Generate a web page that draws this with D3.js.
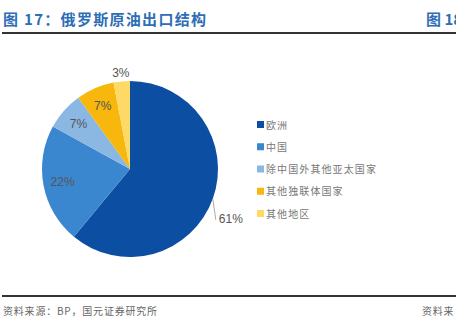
<!DOCTYPE html>
<html lang="zh">
<head>
<meta charset="UTF-8">
<title>俄罗斯原油出口结构</title>
<script src="https://d3js.org/d3.v7.min.js"></script>
<style>
  body { margin: 0; background: #fff; }
  text { font-family: "Noto Sans CJK SC", sans-serif; }
</style>
</head>
<body>
<script>
  const categories = ['欧洲', '中国', '除中国外其他亚太国家', '其他独联体国家', '其他地区']
  const values = [61, 22, 7, 7, 3]
  const colors = ['#0b4ea2', '#3a87d0', '#8bb8e3', '#f7b70c', '#ffd966']

  const width = 456
  const height = 330

  const svg = d3.select('body').append('svg').attr('width', width).attr('height', height)

  // header
  svg.append('text')
    .attr('x', 3).attr('y', 25)
    .style('font-size', '15px').style('font-weight', 'bold')
    .style('letter-spacing', '1.3px')
    .style('fill', '#2f6db5')
    .text('图 17：俄罗斯原油出口结构')

  svg.append('text')
    .attr('x', 426).attr('y', 25)
    .style('font-size', '15px').style('font-weight', 'bold')
    .style('fill', '#2f6db5')
    .text('图 18')

  svg.append('rect').attr('x', 2).attr('y', 32).attr('width', width).attr('height', 2).style('fill', '#333')
  svg.append('rect').attr('x', 2).attr('y', 295).attr('width', width).attr('height', 2).style('fill', '#333')

  // footer
  svg.append('text')
    .attr('x', 3).attr('y', 315)
    .style('font-size', '10px').style('letter-spacing', '0.8px')
    .style('fill', '#666')
    .text('资料来源：BP，国元证券研究所')

  svg.append('text')
    .attr('x', 422).attr('y', 315)
    .style('font-size', '10px').style('letter-spacing', '0.8px')
    .style('fill', '#666')
    .text('资料来')

  // pie
  const cx = 130, cy = 169, r = 88
  const pie = d3.pie().sort(null).value(d => d)
  const arcs = pie(values)
  const arc = d3.arc().innerRadius(0).outerRadius(r)

  const g = svg.append('g').attr('transform', `translate(${cx},${cy})`)

  g.selectAll('path')
    .data(arcs)
    .join('path')
    .attr('d', arc)
    .style('fill', (d, i) => colors[i])

  const inner = d3.arc().innerRadius(r * 0.78).outerRadius(r * 0.78)
  const labelFmt = d => d.data + '%'
  const labelStyle = sel => sel
    .style('font-family', 'Liberation Sans, Arial, sans-serif')
    .style('font-size', '12px')
    .style('fill', '#555')

  g.selectAll('text.inside')
    .data(arcs.slice(1, 4))
    .join('text')
    .attr('class', 'inside')
    .attr('transform', d => `translate(${inner.centroid(d)})`)
    .attr('text-anchor', 'middle')
    .attr('dy', '0.35em')
    .call(labelStyle)
    .text(labelFmt)

  // 3% above pie
  const last = arcs[4]
  const topArc = d3.arc().innerRadius(r + 9).outerRadius(r + 9)
  g.append('text')
    .attr('transform', `translate(${topArc.centroid(last)})`)
    .attr('text-anchor', 'middle')
    .attr('dy', '0.35em')
    .call(labelStyle)
    .text(labelFmt(last))

  // 61% with leader line
  const first = arcs[0]
  const ang = (first.startAngle + first.endAngle) / 2
  const p0 = [Math.sin(ang) * r, -Math.cos(ang) * r]
  const p1 = [p0[0] + 3, p0[1] + 21]
  g.append('line')
    .attr('x1', p0[0]).attr('y1', p0[1])
    .attr('x2', p1[0]).attr('y2', p1[1])
    .style('stroke', '#aaa').style('stroke-width', 1)
  g.append('text')
    .attr('x', p1[0] + 3).attr('y', p1[1] + 3)
    .call(labelStyle)
    .text(labelFmt(first))

  // legend
  const ly = d3.scalePoint().domain(categories).range([125, 214])
  const legend = svg.append('g')
    .selectAll('g')
    .data(categories)
    .join('g')
    .attr('transform', d => `translate(257,${ly(d)})`)

  legend.append('rect')
    .attr('x', 0).attr('y', -4)
    .attr('width', 7).attr('height', 7)
    .style('fill', (d, i) => colors[i])

  legend.append('text')
    .attr('x', 9).attr('y', 0)
    .attr('dy', '0.35em')
    .style('font-size', '10px').style('letter-spacing', '1.1px')
    .style('fill', '#777')
    .text(d => d)
</script>
</body>
</html>
